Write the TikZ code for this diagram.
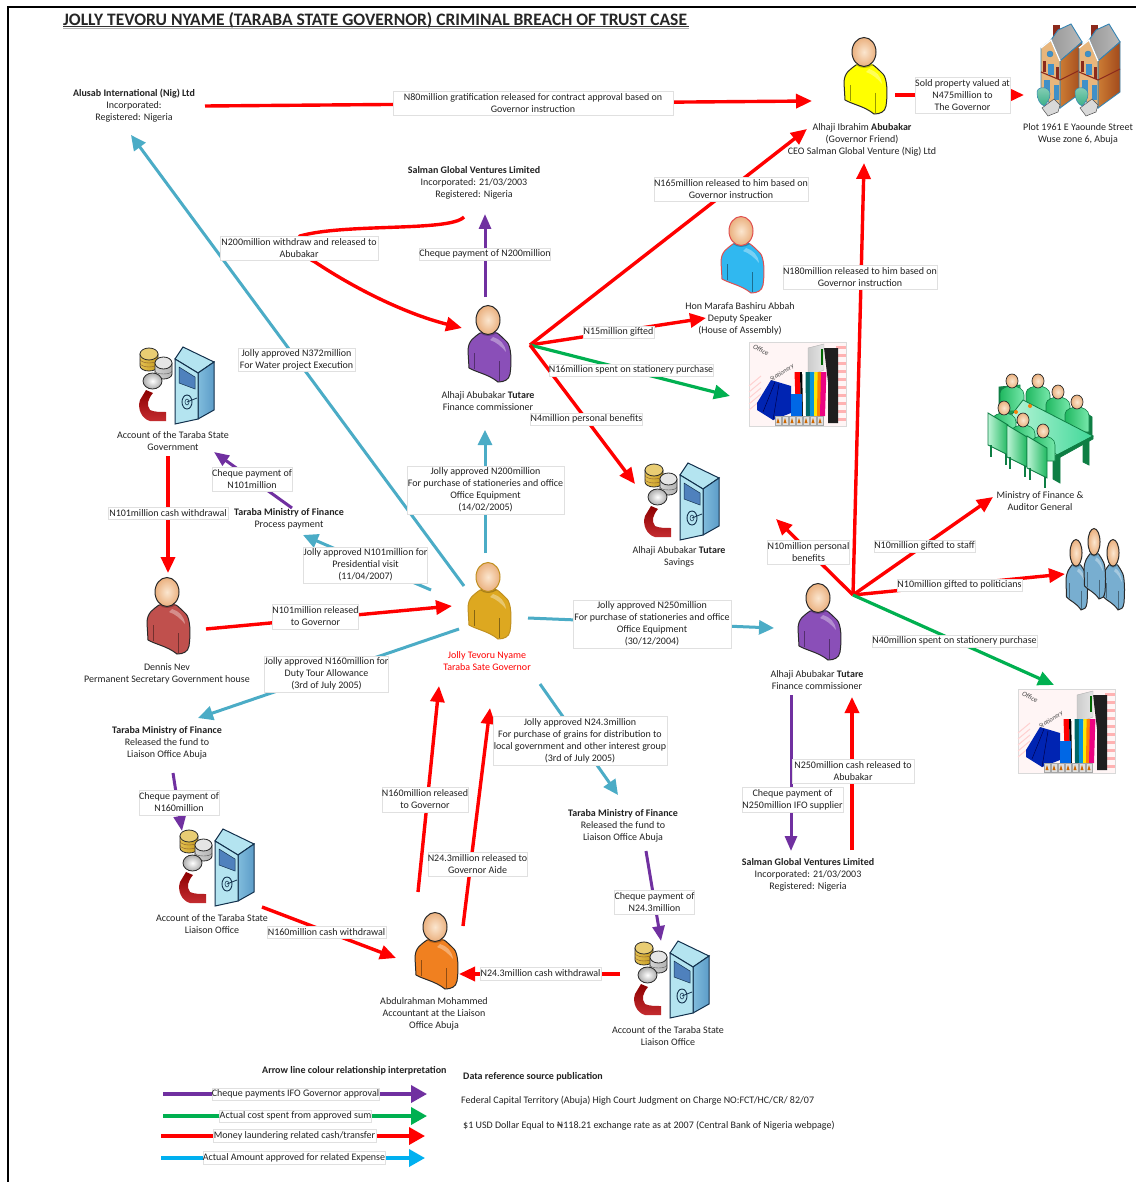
\documentclass[tikz,border=0pt]{standalone}
\usepackage{fontspec}
\setmainfont{Carlito}
\usetikzlibrary{arrows.meta,calc}
\definecolor{cred}{HTML}{FF0000}
\definecolor{cgreen}{HTML}{00B050}
\definecolor{cpurple}{HTML}{7030A0}
\definecolor{cteal}{HTML}{4BACC6}
\definecolor{cblue}{HTML}{00B0F0}
\definecolor{txt}{HTML}{222222}
\definecolor{skin}{HTML}{F2B98A}
\definecolor{skinl}{HTML}{FBE6CF}
\definecolor{outl}{HTML}{2A2A2A}
\definecolor{pPurple}{HTML}{8A4FB8}
\definecolor{pPurpleL}{HTML}{C8A8E0}
\definecolor{pGold}{HTML}{DDA820}
\definecolor{pGoldL}{HTML}{F2D070}
\definecolor{pGoldO}{HTML}{C09020}
\definecolor{pDen}{HTML}{C0504D}
\definecolor{pDenL}{HTML}{EFB0B0}
\definecolor{pOrange}{HTML}{F08020}
\definecolor{pOrangeL}{HTML}{FBC8A0}
\definecolor{pBlue}{HTML}{30B8F0}
\definecolor{pBlueL}{HTML}{A8E8FA}
\definecolor{pBlueO}{HTML}{E05050}
\definecolor{pPol}{HTML}{78AED0}
\definecolor{pPolL}{HTML}{C8E0F0}
\definecolor{pYel}{HTML}{FFFF00}
\definecolor{pYelL}{HTML}{FFFFA0}
\definecolor{hTan}{HTML}{E8B67C}
\definecolor{hSideL}{HTML}{CC7C34}
\definecolor{hSideR}{HTML}{A24A1C}
\definecolor{hEdge}{HTML}{3484B4}
\definecolor{hWin}{HTML}{4090C8}
\definecolor{hBand}{HTML}{8C2A1C}
\definecolor{hTree}{HTML}{3CB088}
\definecolor{mGreen}{HTML}{20B860}
\definecolor{mLight}{HTML}{78E8AC}
\definecolor{mDark}{HTML}{0E7E44}
\definecolor{mTable}{HTML}{B8F4D8}
\definecolor{mTableR}{HTML}{40D898}
\definecolor{sFace}{HTML}{B4E4F0}
\definecolor{sSideL}{HTML}{80BCDC}
\definecolor{sSideR}{HTML}{5C9CC8}
\definecolor{sPane}{HTML}{4F81BD}
\definecolor{sEdge}{HTML}{12304C}
\definecolor{gold}{HTML}{E4C050}
\definecolor{goldD}{HTML}{C49A20}
\definecolor{arrowRed}{HTML}{C42C30}
\tikzset{
 lbl/.style={font=\fontsize{10}{12}\selectfont,align=center,inner sep=0pt,text=txt,yshift=-1pt},
 elabel/.style={font=\fontsize{10}{12}\selectfont,align=center,inner sep=0pt,text=txt,fill=white,draw=black!12,line width=.5pt},
 tipn/.style={-{Triangle[length=16pt,width=14pt]}},
 redarr/.style={draw=cred,line width=3.4pt,tipn},
 greenarr/.style={draw=cgreen,line width=3.2pt,tipn},
 purplearr/.style={draw=cpurple,line width=3pt,-{Triangle[length=15pt,width=12pt]}},
 tealarr/.style={draw=cteal,line width=3pt,-{Triangle[length=15pt,width=14pt]}},
 legarr/.style={line width=3.6pt,-{Triangle[length=16pt,width=17pt]}},
 pics/person/.style n args={3}{code={
  \path[draw=#3,line width=1pt,left color=#1,middle color=#2,right color=#1]
   (-8,27) .. controls (-13,31) and (-20,34) .. (-20,45) -- (-19,62)
   .. controls (-10,67) and (0,68) .. (10,76) .. controls (16,76) and (21,74) .. (22,68)
   .. controls (24,55) and (23,40) .. (19,36) .. controls (15,32) and (12,29) .. (9,27) -- cycle;
  \path[fill=#1!75!black] (-8,27) .. controls (-3,31) and (3,31) .. (9,27) -- (6,24) -- (-5,24) -- cycle;
  \path[fill=white,opacity=.35] (5,31) .. controls (12,33) and (17,38) .. (18,46) .. controls (13,40) and (8,36) .. (2,34) -- cycle;
  \draw[#1!60!black,line width=.8pt] (-14,47) -- (-14,63);
  \draw[#1!60!black,line width=.8pt] (11,55) -- (11,75);
  \path[draw=#3,line width=1pt,inner color=skinl,outer color=skin!85!brown] (0,14) ellipse [x radius=12,y radius=14.5];
 }},
 pics/safe/.style={code={
  \path[top color=red!55!black,bottom color=arrowRed] (6,43) -- (13,46) .. controls (8,52) and (6,58) .. (10,63) .. controls (14,65) and (20,65) .. (26,65) -- (26,74) -- (10,74) .. controls (2,72) and (-3,62) .. (0,53) -- cycle;
  \path[draw=outl,line width=.8pt,left color=gold,right color=goldD] (0,7) -- (0,19) arc[start angle=180,end angle=360,x radius=9,y radius=-5] -- (18,7) -- cycle;
  \path[draw=outl,line width=.8pt,fill=gold!80!white] (9,7) ellipse [x radius=9,y radius=6];
  \draw[brown!70!black,line width=.4pt] (0,12) arc[start angle=180,end angle=360,x radius=9,y radius=-4];
  \draw[brown!70!black,line width=.4pt] (0,16) arc[start angle=180,end angle=360,x radius=9,y radius=-4];
  \path[draw=outl,line width=.8pt,left color=gray!35,right color=gray!60] (15,16) -- (15,27) arc[start angle=180,end angle=360,x radius=8.5,y radius=-5] -- (32,16) -- cycle;
  \path[draw=outl,line width=.8pt,fill=gray!20] (23.5,16) ellipse [x radius=8.5,y radius=6];
  \draw[gray!70!black,line width=.4pt] (15,24) arc[start angle=180,end angle=360,x radius=8.5,y radius=-3];
  \path[draw=outl,line width=.8pt,inner color=white,outer color=gray!65] (12.5,34) ellipse [x radius=9.5,y radius=8];
  \path[draw=sEdge,line width=1pt,fill=sFace] (35,12) -- (43,0) -- (74,15) -- (58,26) -- cycle;
  \path[draw=sEdge,line width=1pt,left color=sSideL,right color=sSideR] (58,26) -- (74,15) -- (74,63) -- (58,72) -- cycle;
  \path[draw=sEdge,line width=1pt,fill=sFace] (35,12) -- (58,26) -- (58,72) -- (35,77) -- cycle;
  \path[draw=sEdge,line width=.5pt,fill=sPane] (39,20) -- (55,30) -- (55,42) -- (39,36) -- cycle;
  \draw[sEdge,line width=.9pt] (47,55) ellipse [x radius=5,y radius=7];
  \draw[sEdge,line width=.8pt] (47,55) -- (57,51);
  \draw[sEdge,line width=.5pt] (47,55) ellipse [x radius=2,y radius=3];
 }},
 pics/office/.style={code={
  \path[fill=red!4,draw=gray!30,line width=.5pt] (0,0) rectangle (97,84);
  \foreach \yy in {4,12,...,76}{\path[fill=red!30] (87,\yy) rectangle (97,\yy+3);}
  \foreach \yy in {34,40,...,62}{\draw[red!18,line width=1pt] (0,\yy+10) -- (12,\yy);}
  \path[fill=black!88] (75,6) -- (89,6) -- (89,81) -- (79,81) -- (79,40) -- cycle;
  \path[draw=gray!60,left color=gray!40,right color=gray!20] (59,6) -- (75,2) -- (75,28) -- (59,34) -- cycle;
  \path[fill=green!40!black] (72,7) rectangle (74,23);
  \foreach \cc/\xa/\xb in {red/47/52,black/52/56,white/54/58,teal!80!black/57/61,cyan!80!blue/61/65,yellow!90!orange/65/69,orange/68/72,magenta!90!red/71/76}{
   \path[fill=\cc] (\xa,74) -- (\xb,74) -- ({62+(\xb-62)*1.1},30) -- ({62+(\xa-62)*1.1},30) -- cycle;}
  \path[fill=blue!80!cyan!70!black] (8,61) -- (22,38) -- (42,44) -- (42,71) -- (24,78) -- (8,68) -- cycle;
  \draw[blue!30!black,line width=.5pt] (24,78) -- (30,42) (14,70) -- (26,40);
  \path[fill=blue!55!cyan!90!black] (42,52) -- (53,52) -- (53,74) -- (42,74) -- cycle;
  \foreach \xx in {26,33,40,47,54,61,68}{\path[fill=gray!25,draw=gray!70,line width=.3pt] (\xx,74) rectangle (\xx+6,83);
   \path[fill=orange!80!black] (\xx+1.5,81) -- (\xx+3,76) -- (\xx+4.5,81) -- cycle;}
  \node[rotate=-25,inner sep=0pt,text=black!75,font=\fontsize{7}{7}\selectfont\itshape] (officeword) at (12,8) {Office};
  \node[rotate=32,inner sep=0pt,text=black!70,font=\fontsize{6.5}{7}\selectfont\itshape] (statword) at (33,31) {Stationery};
 }},
 pics/house/.style={code={
  \path[fill=hBand] (23,5) rectangle (30,17);
  \path[draw=hEdge,line width=.9pt,left color=gray!80,right color=gray!55] (21,20) -- (28,10) -- (41,4) -- (52,22) -- (30,41) -- cycle;
  \path[draw=hEdge,line width=.9pt,left color=hSideL,right color=hSideR] (30,41) -- (52,22) -- (52,72) -- (30,88) -- cycle;
  \path[draw=hEdge,line width=.9pt,fill=hTan] (11,28) -- (21,20) -- (30,41) -- (30,88) -- (11,78) -- cycle;
  \draw[white,line width=1.3pt] (11,28) -- (21,20) -- (30,41);
  \draw[hBand,line width=1.1pt] (11,52) -- (30,60) -- (52,49);
  \path[fill=hWin,draw=hEdge,line width=.4pt] (20,34) circle (3);
  \path[fill=hBand] (13,41) rectangle (16,52);
  \path[fill=hWin] (18,44) rectangle (24,55);
  \path[fill=hBand] (26,47) rectangle (29,59);
  \path[fill=hWin] (14,60) rectangle (20,72);
  \path[fill=hWin] (24,65) rectangle (29,80);
  \path[fill=gray!30,draw=gray!60!black,line width=.5pt] (12,88) -- (24,79) -- (30,85) -- (28,92) -- (18,96) -- cycle;
  \path[draw=hEdge,line width=.5pt,top color=hTree!60!white,bottom color=hTree] (7,72) .. controls (7,66) and (20,66) .. (20,74) .. controls (20,80) and (16,84) .. (14,86) .. controls (10,84) and (7,80) .. (7,72) -- cycle;
 }},
 pics/sitter/.style={code={
  \path[draw=mDark,line width=.6pt,left color=mGreen,right color=mLight] (-12,12) .. controls (-12,7) and (-4,5) .. (0,5) .. controls (6,5) and (12,8) .. (12,14) -- (12,30) -- (-12,30) -- cycle;
  \path[draw=outl,line width=.7pt,inner color=skinl,outer color=skin!85!brown] (0,0) ellipse [x radius=6,y radius=7];
 }},
 pics/meeting/.style={code={
  \path[draw=mDark,line width=.7pt,left color=mDark,right color=mGreen] (14,22) -- (35,20) -- (35,46) -- (14,52) -- cycle;
  \pic at (27,16) {sitter};
  \pic at (53,16) {sitter};
  \path[draw=mDark,line width=.7pt,fill=mDark] (97,45) -- (107,52) -- (107,72) -- (97,66) -- cycle;
  \pic at (73,27) {sitter};
  \pic at (92,37) {sitter};
  \path[draw=mDark,line width=.8pt,fill=mDark] (70,90) -- (75,92) -- (75,118) -- (68,114) -- (68,90) -- cycle;
  \path[draw=mDark,line width=.8pt,fill=mDark] (98,76) -- (104,74) -- (104,100) -- (98,97) -- cycle;
  \path[draw=mDark,line width=.8pt,left color=mTable,right color=mTableR] (38,35) -- (108,71) -- (72,90) -- (25,52) -- cycle;
  \path[fill=mDark,draw=mDark,line width=.6pt] (72,90) -- (108,71) -- (108,74) -- (72,94) -- cycle;
  \path[fill=orange!85!brown] (45,41) circle (2);
  \path[fill=orange!85!brown] (31,47) circle (2);
  \foreach \ox/\oy in {0/0,19/12,39/23}{
   \begin{scope}[shift={(\ox,\oy)}]
    \pic at (19,43) {sitter};
    \path[draw=mDark,line width=.9pt,left color=mLight!50!white,right color=mGreen] (3,48) -- (23,60) -- (23,90) -- (3,80) -- cycle;
    \draw[mDark,line width=2pt] (6,80) -- (6,92) (21,89) -- (21,100);
   \end{scope}}
 }}
}
\newcommand\conn[5]{\coordinate (#2) at (#3);\coordinate (#4) at (#5);\draw[#1] (#2) -- (#4);}
\newcommand\elab[6]{\node[elabel,minimum width={(#3-#2)*1pt},minimum height={(#5-#4)*1pt}] (#1) at ({(#2+#3)/2},{(#4+#5)/2}) {#6};}
\begin{document}
\begin{tikzpicture}[x=1pt,y=-1pt]
\useasboundingbox (0,0) rectangle (1136,1182);
\path[fill=white] (0,0) rectangle (1136,1182);
\coordinate (frameTL) at (8,7);
\draw[black,line width=2.2pt] (8,1182) -- (frameTL) -- (1136,7);
% title
\node[inner sep=0pt,anchor=west,font=\fontsize{17.5}{20}\selectfont\bfseries,text=black!85] (title) at (63,20) {JOLLY TEVORU NYAME (TARABA STATE GOVERNOR) CRIMINAL BREACH OF TRUST CASE};
\draw[black!80,line width=1pt] (63,27) -- (689,27);
\draw[gray!60,line width=.8pt] (63,28.2) -- (689,28.2);
% hubs
\coordinate (hubA) at (530,345);
\coordinate (hubB) at (853,595);
% connectors
\conn{redarr}{aluOut}{205,106}{ibrInL}{812,101}
\conn{redarr}{ibrOut}{895,95}{plotIn}{1024,95}
\coordinate (ibrInS) at (807,129);
\draw[redarr] (hubA) -- (ibrInS);
\coordinate (salOutA) at (464,217);\coordinate (abuIn) at (462,328);
\draw[redarr] (salOutA) .. controls (450,232) and (345,223) .. (300,236) .. controls (292,245) and (300,254) .. (315,262) .. controls (360,292) and (410,315) .. (abuIn);
\conn{purplearr}{abuUp}{485,297}{salIn}{485,214}
\coordinate (honIn) at (706,318);\draw[redarr] (hubA) -- (honIn);
\coordinate (offIn) at (730,396);\draw[greenarr] (hubA) -- (offIn);
\coordinate (savIn) at (635,484);\draw[redarr] (hubA) -- (savIn);
\coordinate (ibrInB) at (864,163);\draw[redarr] (hubB) -- (ibrInB);
\coordinate (minIn) at (993,497);\draw[redarr] (hubB) -- (minIn);
\coordinate (polIn) at (1065,574);\draw[redarr] (hubB) -- (polIn);
\coordinate (savIn2) at (776,519);\draw[redarr] (hubB) -- (savIn2);
\coordinate (offIn2) at (1054,685);\draw[greenarr] (hubB) -- (offIn2);
\conn{tealarr}{govA}{464,586}{aluIn}{131,135}
\conn{tealarr}{govB}{485,553}{abuInS}{485,430}
\conn{tealarr}{govC}{431,590}{tmfIn}{303,535}
\conn{redarr}{denOut}{206,629}{govIn}{452,606}
\conn{tealarr}{govD}{459,629}{tmlIn}{198,718}
\conn{tealarr}{govE}{528,618}{tutIn}{774,628}
\conn{tealarr}{govF}{540,684}{tmrIn}{618,795}
\conn{redarr}{acgOut}{168,456}{denIn}{168,573}
\conn{purplearr}{tmfOut}{292,508}{acgIn}{214,452}
\conn{purplearr}{tmlOut}{173,773}{aclIn}{182,831}
\conn{redarr}{abdOutA}{418,892}{govInA}{439,686}
\conn{redarr}{abdOutB}{463,926}{govInB}{490,708}
\conn{redarr}{aclOut}{262,907}{abdIn}{396,958}
\conn{redarr}{acrOut}{620,974}{abdInR}{459,974}
\conn{purplearr}{tmrOut}{646,851}{acrIn}{661,941}
\conn{purplearr}{tutDown}{791,695}{sal2In}{791,851}
\conn{redarr}{sal2Out}{852,850}{tutInS}{852,697}
% legend arrows
\conn{legarr,draw=cpurple}{legPa}{163,1094}{legPb}{427,1094}
\conn{legarr,draw=cgreen}{legGa}{163,1116}{legGb}{427,1116}
\conn{legarr,draw=cred}{legRa}{161,1136}{legRb}{425,1136}
\conn{legarr,draw=cblue}{legBa}{161,1158}{legBb}{425,1158}
% icons
\pic (pIbr) at (864,38) {person={pYel}{pYelL}{outl}};
\pic (pHon) at (741,217) {person={pBlue}{pBlueL}{pBlueO}};
\pic (pAbu) at (488,306) {person={pPurple}{pPurpleL}{outl}};
\pic (pGov) at (488,563) {person={pGold}{pGoldL}{pGoldO}};
\pic (pDen) at (167,578) {person={pDen}{pDenL}{outl}};
\pic (pTut) at (818,584) {person={pPurple}{pPurpleL}{outl}};
\pic (pAbd) at (435,913) {person={pOrange}{pOrangeL}{outl}};
\pic[xscale=.5,yscale=.92] (pPol1) at (1076,540) {person={pPol}{pPolL}{outl}};
\pic[xscale=.5,yscale=.92] (pPol3) at (1113,540) {person={pPol}{pPolL}{outl}};
\pic[xscale=.5,yscale=.92] (pPol2) at (1094,529) {person={pPol}{pPolL}{outl}};
\pic (sAcg) at (140,347) {safe};
\pic (sSav) at (645,463) {safe};
\pic (sAcl) at (180,829) {safe};
\pic (sAcr) at (635,941) {safe};
\pic (oA) at (749,342) {office};
\pic (oB) at (1018,689) {office};
\pic (hA) at (1030,20) {house};
\pic (hB) at (1068,20) {house};
\pic (mtg) at (985,365) {meeting};
% entity labels
\node[lbl] (alusab) at (134,105) {\textbf{Alusab International (Nig) Ltd}\\Incorporated:\\Registered: Nigeria};
\node[lbl] (salman) at (474,182) {\textbf{Salman Global Ventures Limited}\\Incorporated: 21/03/2003\\Registered: Nigeria};
\node[lbl] (ibrahim) at (862,139) {Alhaji Ibrahim \textbf{Abubakar}\\(Governor Friend)\\CEO Salman Global Venture (Nig) Ltd};
\node[lbl] (plot) at (1078,133) {Plot 1961 E Yaounde Street\\Wuse zone 6, Abuja};
\node[lbl] (hon) at (740,318) {Hon Marafa Bashiru Abbah\\Deputy Speaker\\(House of Assembly)};
\node[lbl] (abu) at (488,400) {Alhaji Abubakar \textbf{Tutare}\\Finance commissioner};
\node[lbl] (acg) at (173,440) {Account of the Taraba State\\Government};
\node[lbl] (tmf) at (289,518) {\textbf{Taraba Ministry of Finance}\\Process payment};
\node[lbl] (sav) at (679,556) {Alhaji Abubakar \textbf{Tutare}\\Savings};
\node[lbl] (min) at (1040,500) {Ministry of Finance \&\\Auditor General};
\node[lbl] (den) at (167,673) {Dennis Nev\\Permanent Secretary Government house};
\node[lbl,text=red] (gov) at (487,660) {Jolly Tevoru Nyame\\Taraba Sate Governor};
\node[lbl] (tut) at (817,679) {Alhaji Abubakar \textbf{Tutare}\\Finance commissioner};
\node[lbl] (tml) at (167,742) {\textbf{Taraba Ministry of Finance}\\Released the fund to\\Liaison Office Abuja};
\node[lbl] (tmr) at (623,825) {\textbf{Taraba Ministry of Finance}\\Released the fund to\\Liaison Office Abuja};
\node[lbl] (sal2) at (808,874) {\textbf{Salman Global Ventures Limited}\\Incorporated: 21/03/2003\\Registered: Nigeria};
\node[lbl] (acl) at (212,923) {Account of the Taraba State\\Liaison Office};
\node[lbl] (abd) at (434,1013) {Abdulrahman Mohammed\\Accountant at the Liaison\\Office Abuja};
\node[lbl] (acr) at (668,1035) {Account of the Taraba State\\Liaison Office};
% edge labels
\elab{e1}{393}{673}{91}{115}{N80million gratification released for contract approval based on\\Governor instruction}
\elab{e2}{915}{1010}{77}{113}{Sold property valued at\\N475million to\\The Governor}
\elab{e3}{654}{808}{177}{201}{N165million released to him based on\\Governor instruction}
\elab{e4}{220}{378}{236}{260}{N200million withdraw and released to\\Abubakar}
\elab{e5}{420}{550}{248}{260}{Cheque payment of N200million}
\elab{e6}{783}{937}{265}{289}{N180million released to him based on\\Governor instruction}
\elab{e7}{238}{355}{348}{371}{Jolly approved N372million\\For Water project Execution}
\elab{e8}{583}{654}{326}{338}{N15million gifted}
\elab{e9}{549}{713}{364}{376}{N16million spent on stationery purchase}
\elab{e10}{531}{642}{413}{425}{N4million personal benefits}
\elab{e11}{407}{564}{466}{514}{Jolly approved N200million\\For purchase of stationeries and office\\Office Equipment\\(14/02/2005)}
\elab{e12}{212}{292}{467}{491}{Cheque payment of\\N101million}
\elab{e13}{108}{228}{507}{519}{N101million cash withdrawal}
\elab{e14}{304}{427}{547}{583}{Jolly approved N101million for\\Presidential visit\\(11/04/2007)}
\elab{e15}{273}{358}{604}{629}{N101million released\\to Governor}
\elab{e16}{265}{388}{656}{692}{Jolly approved N160million for\\Duty Tour Allowance\\(3rd of July 2005)}
\elab{e17}{573}{731}{600}{648}{Jolly approved N250million\\For purchase of stationeries and office\\Office Equipment\\(30/12/2004)}
\elab{e18}{768}{849}{540}{564}{N10million personal\\benefits}
\elab{e19}{874}{975}{540}{552}{N10million gifted to staff}
\elab{e20}{897}{1022}{579}{591}{N10million gifted to politicians}
\elab{e21}{872}{1037}{635}{647}{N40million spent on stationery purchase}
\elab{e22}{493}{667}{716}{765}{Jolly approved N24.3million\\For purchase of grains for distribution to\\local government and other interest group\\(3rd of July 2005)}
\elab{e23}{792}{914}{759}{783}{N250million cash released to\\Abubakar}
\elab{e24}{742}{843}{787}{812}{Cheque payment of\\N250million IFO supplier}
\elab{e25}{140}{218}{790}{815}{Cheque payment of\\N160million}
\elab{e26}{382}{468}{787}{812}{N160million released\\to Governor}
\elab{e27}{428}{527}{852}{876}{N24.3million released to\\Governor Aide}
\elab{e28}{615}{694}{890}{914}{Cheque payment of\\N24.3million}
\elab{e29}{267}{386}{926}{938}{N160million cash withdrawal}
\elab{e30}{480}{601}{967}{980}{N24.3million cash withdrawal}
% legend
\node[lbl,font=\fontsize{10}{12}\selectfont\bfseries,anchor=west] (legT) at (262,1070) {Arrow line colour relationship interpretation};
\elab{l1}{212}{379}{1088}{1100}{Cheque payments IFO Governor approval}
\elab{l2}{220}{371}{1110}{1122}{Actual cost spent from approved sum}
\elab{l3}{213}{376}{1129}{1142}{Money laundering related cash/transfer}
\elab{l4}{203}{385}{1151}{1164}{Actual Amount approved for related Expense}
\node[lbl,font=\fontsize{10}{12}\selectfont\bfseries,anchor=west] (srcT) at (463,1076) {Data reference source publication};
\node[lbl,anchor=west] (src1) at (461,1100) {Federal Capital Territory (Abuja) High Court Judgment on Charge NO:FCT/HC/CR/ 82/07};
\node[lbl,anchor=west] (src2) at (463,1125) {\$1 USD Dollar Equal to ₦118.21 exchange rate as at 2007 (Central Bank of Nigeria webpage)};
\end{tikzpicture}
\end{document}
